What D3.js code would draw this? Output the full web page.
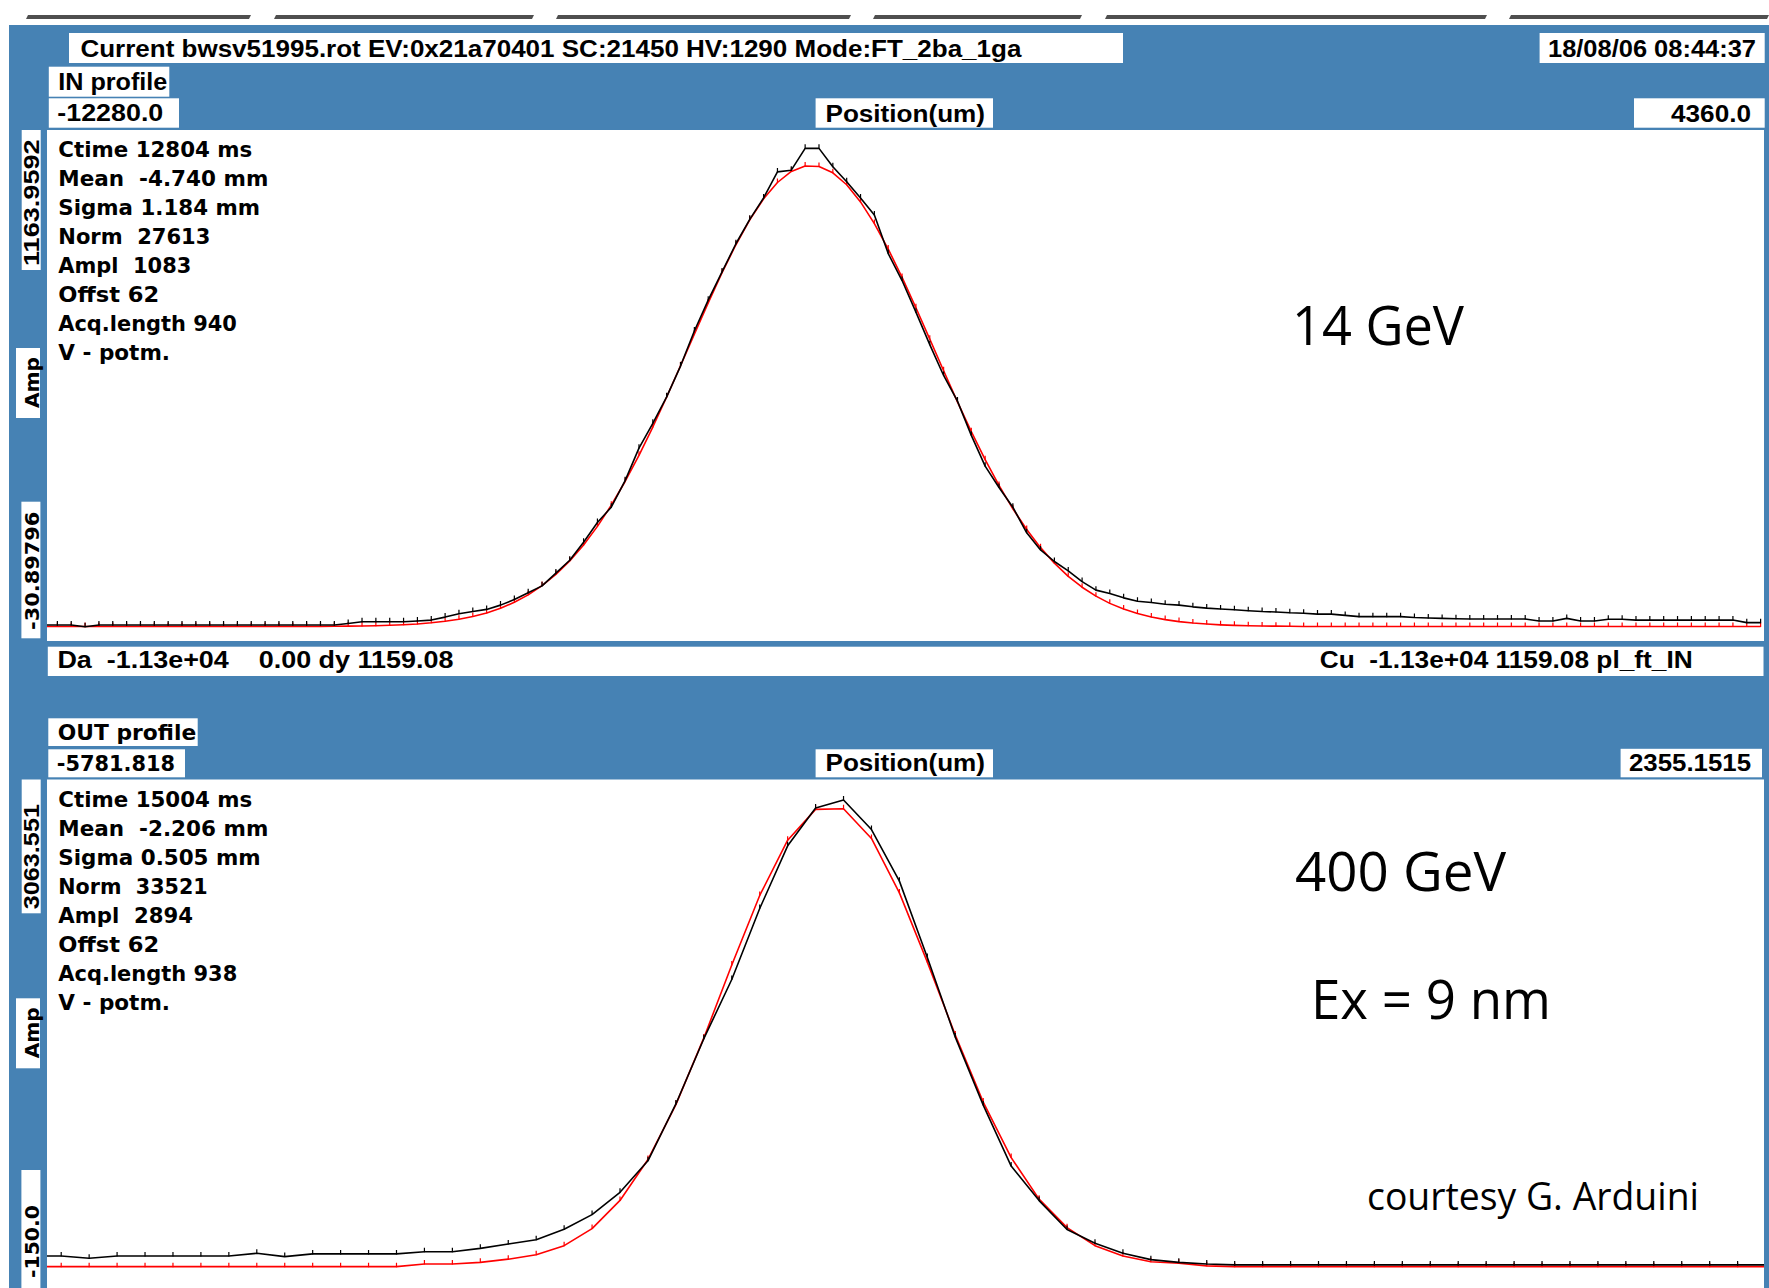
<!DOCTYPE html>
<html>
<head>
<meta charset="utf-8">
<script src="https://cdn.jsdelivr.net/npm/d3@7"></script>
<style>
  html, body { margin: 0; padding: 0; background: #fff; }
  svg { display: block; }
  text { white-space: pre; }
</style>
</head>
<body>
<svg id="scr" width="1769" height="1288"></svg>
<script>
// ---------------- wire-scanner data ----------------
// IN profile: sample grid (um) and amplitudes (Amp units)
const inStartUm = -12313.6;
const inStepUm = 134.2;
const inMeasured = [
  6.5, 6.5, 6.5, 2.5, 6.5, 6.5, 6.5, 6.5, 6.5, 6.5,
  6.5, 6.5, 6.5, 6.5, 6.5, 6.5, 6.5, 6.5, 6.5, 6.5,
  6.5, 6.5, 10, 14, 14, 14, 14, 16, 18, 25,
  33, 38, 43, 53, 66, 82, 98, 128, 158, 200,
  246, 282, 344, 420, 478, 540, 612, 694, 766, 832,
  898, 955, 1005, 1066, 1070, 1121, 1121, 1078, 1043, 1005,
  965, 875, 812, 738, 662, 590, 530, 450, 378, 328,
  282, 222, 182, 155, 133, 108, 88, 80, 70, 62,
  59, 55, 53, 49, 46, 44, 42, 40, 38, 37,
  35, 34, 32, 32, 29, 26, 26, 26, 26, 24,
  23, 22, 21, 20.5, 20.5, 20.5, 20.5, 20.5, 16, 16,
  22, 16, 16, 20, 20, 18, 18, 18, 18, 18,
  18, 18, 18, 12, 12
];
const inFit = [
  3, 3, 3, 3, 3, 3, 3, 3, 3, 3,
  3, 3, 3, 3, 3, 3, 3, 3, 3, 3,
  3, 3.5, 3.8, 4.3, 4.9, 5.8, 7.2, 9.0, 11.6, 15.2,
  20.0, 26.4, 34.8, 45.7, 59.6, 77.0, 98.6, 124.9, 156.5, 193.8,
  237.1, 286.5, 342.1, 403.3, 469.4, 539.7, 612.7, 686.7, 759.9, 830.3,
  895.6, 953.9, 1003.0, 1041.2, 1067.1, 1079.8, 1078.7, 1063.9, 1035.9, 995.8,
  945.1, 885.6, 819.3, 748.3, 674.8, 600.9, 528.2, 458.6, 393.1, 332.8,
  278.2, 229.7, 187.4, 151.1, 120.4, 94.8, 74.0, 57.1, 43.8, 33.3,
  25.2, 19.1, 14.5, 11.1, 8.7, 6.9, 5.7, 4.8, 4.2, 3.8,
  3.5, 3, 3, 3, 3, 3, 3, 3, 3, 3,
  3, 3, 3, 3, 3, 3, 3, 3, 3, 3,
  3, 3, 3, 3, 3, 3, 3, 3, 3, 3,
  3, 3, 3, 3, 3
];

// OUT profile: sample grid (um) and amplitudes (Amp units)
const outStartUm = -5846.9;
const outStepUm = 132.41;
const outMeasured = [
  70, 70, 56, 70, 70, 70, 70, 70, 87, 66,
  83, 83, 83, 83, 97, 97, 118, 145, 172, 238,
  330, 470, 668, 1025, 1435, 1807, 2253, 2647, 2885, 2935,
  2749, 2425, 1945, 1445, 1018, 635, 418, 236, 150, 87,
  47, 30, 20, 14, 14, 14, 14, 14, 14, 14,
  14, 14, 14, 14, 14, 14, 14, 14, 14, 14,
  14, 14, 14
];
const outFit = [
  3, 3, 3, 3, 3, 3, 3, 3, 3, 3,
  3, 3, 3, 3, 20, 20, 30, 50, 78, 135,
  242, 419, 676, 1021, 1440, 1898, 2335, 2682, 2876, 2880,
  2693, 2351, 1916, 1458, 1037, 688, 427, 248, 135, 70,
  34, 24, 8, 3, 3, 3, 3, 3, 3, 3,
  3, 3, 3, 3, 3, 3, 3, 3, 3, 3,
  3, 3, 3
];

// axis end labels (they also give the scale domains)
const inXLabels = ["-12280.0", "4360.0"];
const inYLabels = ["-30.89796", "1163.9592"];
const outXLabels = ["-5781.818", "2355.1515"];
const outYLabels = ["-150.0", "3063.551"];

// header and status texts
const headerText = "Current bwsv51995.rot EV:0x21a70401 SC:21450 HV:1290 Mode:FT_2ba_1ga";
const dateText = "18/08/06 08:44:37";
const statusLeft = "Da  -1.13e+04    0.00 dy 1159.08";
const statusRight = "Cu  -1.13e+04 1159.08 pl_ft_IN";

// fit results
const inStats = ["Ctime 12804 ms", "Mean  -4.740 mm", "Sigma 1.184 mm", "Norm  27613",
                 "Ampl  1083", "Offst 62", "Acq.length 940", "V - potm."];
const outStats = ["Ctime 15004 ms", "Mean  -2.206 mm", "Sigma 0.505 mm", "Norm  33521",
                  "Ampl  2894", "Offst 62", "Acq.length 938", "V - potm."];

// ---------------- drawing ----------------
const W = 1769, H = 1288;
const BLUE = "#4682b4";
const NARROW = "'Liberation Sans Narrow','Liberation Sans',Arial,sans-serif";
const WIDE = "'DejaVu Sans',Verdana,sans-serif";
const HAND = "'Open Sans','Noto Sans',sans-serif";

const svg = d3.select("#scr");
svg.append("rect").attr("width", W).attr("height", H).attr("fill", "#fff");

// window title-bar dashes
[[26, 251], [274, 534], [556, 851], [873, 1082], [1105, 1487], [1509, 1769]].forEach(([a, b]) => {
  svg.append("path")
    .attr("d", `M${a + 2},15 L${b},15 L${b - 2},19 L${a},19 Z`)
    .attr("fill", "#4f4f4f");
});

// application panel
svg.append("rect").attr("x", 9).attr("y", 25).attr("width", W - 9).attr("height", H - 25).attr("fill", BLUE);

function box(x0, y0, x1, y1) {
  svg.append("rect").attr("x", x0).attr("y", y0)
    .attr("width", x1 - x0).attr("height", y1 - y0).attr("fill", "#fff");
}
function label(x, y, str, len, font, size, anchor) {
  const t = svg.append("text")
    .attr("x", x).attr("y", y)
    .attr("font-family", font).attr("font-size", size)
    .attr("font-weight", font === HAND ? "normal" : "bold")
    .attr("fill", "#000")
    .text(str);
  if (anchor) t.attr("text-anchor", anchor);
  if (len) t.attr("textLength", len).attr("lengthAdjust", "spacingAndGlyphs");
  return t;
}
function vlabel(xBase, yStart, str, len, font, size) {
  svg.append("text")
    .attr("transform", `translate(${xBase},${yStart}) rotate(-90)`)
    .attr("font-family", font).attr("font-size", size).attr("font-weight", "bold")
    .attr("fill", "#000")
    .attr("textLength", len).attr("lengthAdjust", "spacingAndGlyphs")
    .text(str);
}

// header row
box(69, 33, 1123, 63);
label(80.4, 57, headerText, 941, NARROW, 23);
box(1539.6, 33, 1764.7, 63);
label(1548, 57, dateText, 208, NARROW, 23);

function drawProfile(p) {
  const x = d3.scaleLinear().domain(p.xLabels.map(Number)).range([p.left, p.right]);
  const y = d3.scaleLinear().domain(p.yLabels.map(Number)).range([p.bottom, p.top]);

  // plot area
  svg.append("rect").attr("x", p.left).attr("y", p.top)
    .attr("width", p.right - p.left).attr("height", Math.min(p.bottom, H) - p.top)
    .attr("fill", "#fff");
  const clipId = "clip-" + p.id;
  svg.append("clipPath").attr("id", clipId).append("rect")
    .attr("x", p.left).attr("y", p.top)
    .attr("width", p.right - p.left).attr("height", Math.min(p.bottom, H) - p.top);
  const g = svg.append("g").attr("clip-path", `url(#${clipId})`);

  const pos = i => p.start + i * p.step;
  const line = d3.line().x((d, i) => x(pos(i))).y(d => y(d));

  [[p.fit, "#ff0000"], [p.measured, "#000000"]].forEach(([vals, col]) => {
    g.append("path").datum(vals)
      .attr("d", line)
      .attr("fill", "none").attr("stroke", col)
      .attr("stroke-width", 1.6).attr("stroke-linejoin", "round");
    g.append("path")
      .attr("d", vals.map((d, i) => `M${x(pos(i))},${y(d) - 4}V${y(d) + 0.5}`).join(""))
      .attr("stroke", col).attr("stroke-width", 1.2).attr("fill", "none");
  });

  // title and end-of-range labels
  box(...p.titleBox);
  label(p.titleBox[0] + 9.5, p.titleBox[3] - 6.5, p.title, p.titleLen, p.titleFont, p.titleSize);
  box(...p.xMinBox);
  label(p.xMinBox[0] + 8.5, p.xMinBox[3] - 6.5, p.xLabels[0], p.xMinLen, p.xMinFont, p.titleSize);
  box(815.6, p.xMinBox[1], 993, p.xMinBox[3]);
  label(825.5, p.xMinBox[3] - 6.2, "Position(um)", 159.5, NARROW, 23);
  box(...p.xMaxBox);
  label(1751, p.xMinBox[3] - 6.2, p.xLabels[1], p.xMaxLen, NARROW, 23, "end");

  // vertical axis labels
  box(21.7, p.top, 40.7, p.top + p.yMaxH);
  vlabel(38.5, p.top + p.yMaxH - 4, p.yLabels[1], p.yMaxLen, NARROW, 22);
  box(16, p.ampY, 40, p.ampY + 70);
  vlabel(38.5, p.ampY + 60, "Amp", 51, WIDE, 20);
  box(21.4, p.yMinBox[0], 40.4, p.yMinBox[1]);
  vlabel(38.5, p.yMinText[0], p.yLabels[0], p.yMinText[0] - p.yMinText[1], WIDE, 20);

  // fit statistics
  p.stats.forEach((s, i) => {
    label(58.3, p.top + 27.3 + i * 29, s, p.statLen[i], WIDE, 21);
  });
}

drawProfile({
  id: "in", left: 47, right: 1764, top: 130, bottom: 641,
  start: inStartUm, step: inStepUm, measured: inMeasured, fit: inFit,
  xLabels: inXLabels, yLabels: inYLabels,
  title: "IN profile", titleBox: [48.8, 66.7, 169.3, 96.7], titleLen: 109, titleFont: NARROW, titleSize: 23,
  xMinBox: [48.8, 98.3, 179, 127.7], xMinLen: 106, xMinFont: NARROW,
  xMaxBox: [1634, 98.3, 1764.7, 127.7], xMaxLen: 80,
  yMaxH: 140, yMaxLen: 126.7, ampY: 348,
  yMinBox: [501.7, 638.3], yMinText: [630, 511.7],
  stats: inStats, statLen: [194, 210, 201.7, 152, 133, 101, 178.5, 111.7]
});

// status bar between the profiles
box(47.8, 646.7, 1763.5, 676);
label(57.4, 668.3, statusLeft, 396, NARROW, 23);
label(1319.7, 668.3, statusRight, 373, NARROW, 23);

drawProfile({
  id: "out", left: 47, right: 1764, top: 779.5, bottom: 1291,
  start: outStartUm, step: outStepUm, measured: outMeasured, fit: outFit,
  xLabels: outXLabels, yLabels: outYLabels,
  title: "OUT profile", titleBox: [48.3, 718.3, 197.7, 746], titleLen: 138.4, titleFont: WIDE, titleSize: 22,
  xMinBox: [48.3, 749.3, 185, 777.3], xMinLen: 118.3, xMinFont: WIDE,
  xMaxBox: [1620.6, 748.8, 1762, 777.3], xMaxLen: 122,
  yMaxH: 133.8, yMaxLen: 105.3, ampY: 998.3,
  yMinBox: [1170, 1288], yMinText: [1278, 1205],
  stats: outStats, statLen: [194, 210, 202.4, 149.4, 134.7, 101, 179, 111.7]
});

// annotations
label(1292, 345, "14 GeV", 172, HAND, 54);
label(1295, 891, "400 GeV", 211, HAND, 54);
label(1311, 1018.6, "Ex = 9 nm", 240, HAND, 54);
label(1367, 1210, "courtesy G. Arduini", 332, HAND, 38);
</script>
</body>
</html>
